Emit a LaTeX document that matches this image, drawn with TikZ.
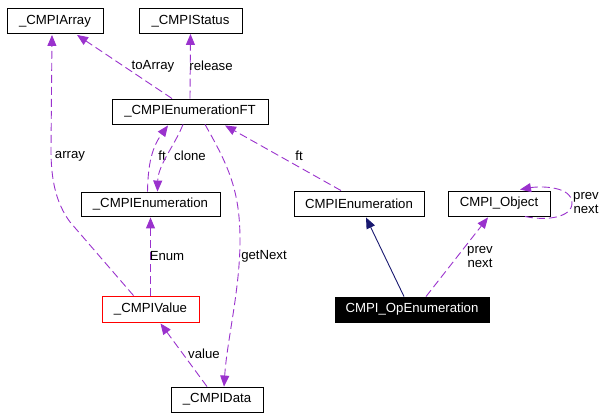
\documentclass[tikz,border=0pt]{standalone}
\usepackage{fontspec}
\setmainfont{Liberation Sans}
\usetikzlibrary{arrows.meta,calc}
\definecolor{edgepurple}{HTML}{9A32CD}
\definecolor{inhnavy}{HTML}{191970}
\begin{document}
\begin{tikzpicture}[x=1pt,y=-1pt,
  box/.style={draw=black,line width=0.9pt,inner sep=0pt,minimum height=25pt,font=\fontsize{13.2}{14}\selectfont},
  redbox/.style={box,draw=red},
  blackbox/.style={box,fill=black,text=white},
  uses/.style={draw=edgepurple,line width=0.9pt,dash pattern=on 8pt off 4pt,-{Triangle[length=11pt,width=9pt,fill=edgepurple]}},
  inherit/.style={draw=inhnavy,line width=0.9pt,-{Triangle[length=11pt,width=9pt,fill=inhnavy]}},
  lbl/.style={inner sep=0pt,align=center,font=\fontsize{13.2}{14}\selectfont}]
\useasboundingbox (0,0) rectangle (607,419);
\node[box,minimum width=96pt] (arr) at (55,21) {\_CMPIArray};
\node[box,minimum width=103pt] (st) at (190.5,21) {\_CMPIStatus};
\node[box,minimum width=156pt] (ft) at (190,111.5) {\_CMPIEnumerationFT};
\node[box,minimum width=139pt,minimum height=24pt] (en) at (150.5,204) {\_CMPIEnumeration};
\node[box,minimum width=130pt] (cen) at (359,203.5) {CMPIEnumeration};
\node[box,minimum width=102pt] (obj) at (499,203.5) {CMPI\_Object};
\node[blackbox,minimum width=154pt] (op) at (412,309.5) {CMPI\_OpEnumeration};
\node[redbox,minimum width=97pt,minimum height=26pt] (val) at (150.5,309) {\_CMPIValue};
\node[box,minimum width=92pt] (dat) at (217,399.5) {\_CMPIData};

% toArray
\draw[uses] ($(ft.north)+(-18,0)$) -- ($(arr.south)+(22,1)$);
\node[lbl] (l1) at (153,66) {toArray};
% release
\draw[uses] (ft.north) -- (st.south);
\node[lbl] (l2) at (211,66) {release};
% array
\draw[uses] ($(val.north)+(-17,0)$) -- (70,222) .. controls (56,203) and (51,180) .. (51,150) -- ($(arr.south)+(-3,1)$);
\node[lbl] (l3) at (70,156) {array};
% ft (left)
\draw[uses] ($(en.north)+(-3,0)$) .. controls (148,170) and (150,150) .. ($(ft.south)+(-22,1)$);
\node[lbl] (l4) at (162,156) {ft};
% clone
\draw[uses] ($(ft.south)+(-7,0)$) .. controls (175,145) and (158,165) .. ($(en.north)+(7,0)$);
\node[lbl] (l5) at (190,156) {clone};
% Enum
\draw[uses] (val.north) -- ($(en.south)+(0,1)$);
\node[lbl] (l6) at (167,256) {Enum};
% getNext
\draw[uses] ($(ft.south)+(15,0)$) .. controls (228,165) and (240,190) .. (240,240) .. controls (240,290) and (227,340) .. ($(dat.north)+(7,0)$);
\node[lbl] (l7) at (264,256) {getNext};
% value
\draw[uses] ($(dat.north)+(-10,0)$) -- ($(val.south)+(10,1)$);
\node[lbl] (l8) at (204,354) {value};
% ft (right)
\draw[uses] ($(cen.north)+(-18,0)$) -- ($(ft.south)+(35,1)$);
\node[lbl] (l9) at (299,156) {ft};
% inheritance
\draw[inherit] ($(op.north)+(-8,0)$) -- ($(cen.south)+(7,1)$);
% prev next
\draw[uses] ($(op.north)+(14,0)$) -- ($(obj.south)+(-11,1)$);
\node[lbl] (l10) at (480,257) {prev\\next};
% self loop
\draw[uses] ($(obj.south)+(26,0)$) .. controls (545,221) and (572,218) .. (572,203) .. controls (572,186) and (540,186) .. ($(obj.north)+(21,-1)$);
\node[lbl] (l11) at (586,203.5) {prev\\next};
\end{tikzpicture}
\end{document}
